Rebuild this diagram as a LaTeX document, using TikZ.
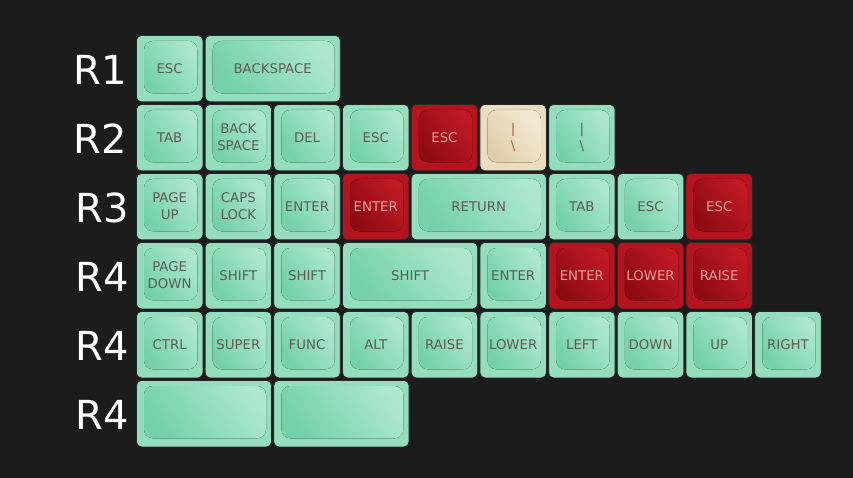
\documentclass[tikz,border=0pt]{standalone}
\usepackage{fontspec}
\setmainfont{DejaVu Sans}
\usetikzlibrary{calc}
\definecolor{bg}{HTML}{1C1C1C}
\definecolor{mintrim}{HTML}{95DEBD}
\definecolor{mintA}{HTML}{74D1A8}
\definecolor{mintB}{HTML}{ACE7CE}
\definecolor{mintTxt}{HTML}{5E5A4E}
\definecolor{redrim}{HTML}{B5131E}
\definecolor{redA}{HTML}{8E0B13}
\definecolor{redB}{HTML}{C01A24}
\definecolor{redTxt}{HTML}{F0A0A0}
\definecolor{crmrim}{HTML}{EBDDC0}
\definecolor{crmA}{HTML}{DFCEAC}
\definecolor{crmB}{HTML}{F3EAD3}
\definecolor{crmTxt}{HTML}{A65A4A}
\tikzset{
  capouter/.style={draw=black!85, line width=0.8pt, rounded corners=5pt, inner sep=0pt},
  rowlabel/.style={text=white, font=\fontsize{40}{40}\selectfont, anchor=center},
  captext/.style={font=\fontsize{13.3}{17}\selectfont, align=center, inner sep=0pt},
}
% \kcap{name}{col}{row}{units}{palette}{text}
\newcommand\kcap[6]{%
  \pgfmathsetmacro\kx{136+68.7*#2}%
  \pgfmathsetmacro\ky{35+69*#3}%
  \pgfmathsetmacro\kw{66.5+68.7*(#4-1)}%
  \node[capouter, fill=#5rim, minimum width=\kw pt, minimum height=66.5pt, anchor=north west] (#1) at (\kx,\ky) {};
  \fill[rounded corners=9pt, left color=#5A, right color=#5B, shading angle=125]
    ($(#1.north west)+(8,6)$) rectangle ($(#1.south east)+(-6,-9)$);
  \node[captext, text=#5Txt] (#1t) at (#1.center) {#6};
}
\begin{document}
\begin{tikzpicture}[x=1pt,y=-1pt]
\fill[bg] (0,0) rectangle (853,478);
\useasboundingbox (0,0) rectangle (853,478);
% row labels
\node[rowlabel] (l1) at (100,70) {R1};
\node[rowlabel] (l2) at (100,139) {R2};
\node[rowlabel] (l3) at (102,208) {R3};
\node[rowlabel] (l4) at (102,277) {R4};
\node[rowlabel] (l5) at (102,346) {R4};
\node[rowlabel] (l6) at (102,415) {R4};
% row 1
\kcap{a1}{0}{0}{1}{mint}{ESC}
\kcap{a2}{1}{0}{2}{mint}{BACKSPACE}
% row 2
\kcap{b1}{0}{1}{1}{mint}{TAB}
\kcap{b2}{1}{1}{1}{mint}{BACK\\SPACE}
\kcap{b3}{2}{1}{1}{mint}{DEL}
\kcap{b4}{3}{1}{1}{mint}{ESC}
\kcap{b5}{4}{1}{1}{red}{ESC}
\kcap{b6}{5}{1}{1}{crm}{|\\\textbackslash}
\kcap{b7}{6}{1}{1}{mint}{|\\\textbackslash}
% row 3
\kcap{c1}{0}{2}{1}{mint}{PAGE\\UP}
\kcap{c2}{1}{2}{1}{mint}{CAPS\\LOCK}
\kcap{c3}{2}{2}{1}{mint}{ENTER}
\kcap{c4}{3}{2}{1}{red}{ENTER}
\kcap{c5}{4}{2}{2}{mint}{RETURN}
\kcap{c6}{6}{2}{1}{mint}{TAB}
\kcap{c7}{7}{2}{1}{mint}{ESC}
\kcap{c8}{8}{2}{1}{red}{ESC}
% row 4
\kcap{d1}{0}{3}{1}{mint}{PAGE\\DOWN}
\kcap{d2}{1}{3}{1}{mint}{SHIFT}
\kcap{d3}{2}{3}{1}{mint}{SHIFT}
\kcap{d4}{3}{3}{2}{mint}{SHIFT}
\kcap{d5}{5}{3}{1}{mint}{ENTER}
\kcap{d6}{6}{3}{1}{red}{ENTER}
\kcap{d7}{7}{3}{1}{red}{LOWER}
\kcap{d8}{8}{3}{1}{red}{RAISE}
% row 5
\kcap{e1}{0}{4}{1}{mint}{CTRL}
\kcap{e2}{1}{4}{1}{mint}{SUPER}
\kcap{e3}{2}{4}{1}{mint}{FUNC}
\kcap{e4}{3}{4}{1}{mint}{ALT}
\kcap{e5}{4}{4}{1}{mint}{RAISE}
\kcap{e6}{5}{4}{1}{mint}{LOWER}
\kcap{e7}{6}{4}{1}{mint}{LEFT}
\kcap{e8}{7}{4}{1}{mint}{DOWN}
\kcap{e9}{8}{4}{1}{mint}{UP}
\kcap{e10}{9}{4}{1}{mint}{RIGHT}
% row 6
\kcap{f1}{0}{5}{2}{mint}{}
\kcap{f2}{2}{5}{2}{mint}{}
\end{tikzpicture}
\end{document}
